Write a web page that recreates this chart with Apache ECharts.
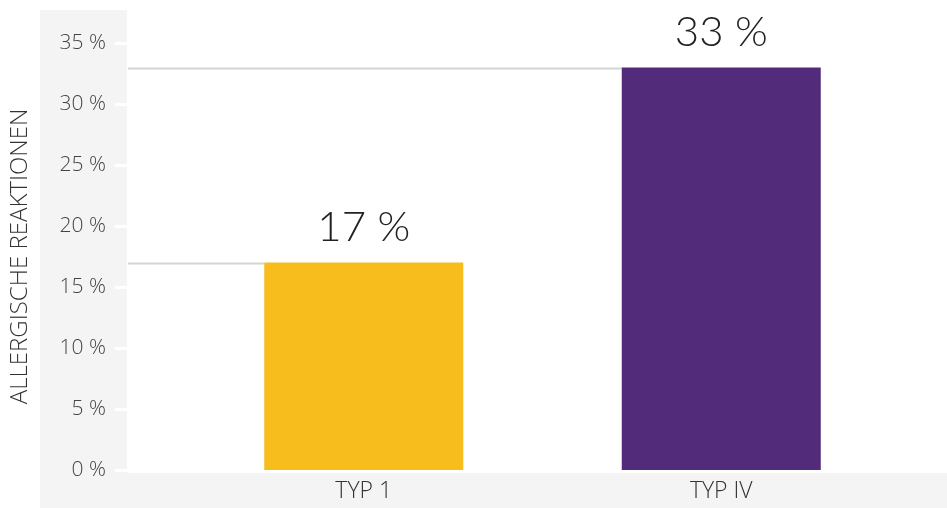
<!DOCTYPE html>
<html>
<head>
<meta charset="utf-8">
<script src="https://cdn.jsdelivr.net/npm/echarts@6/dist/echarts.min.js"></script>
<style>
  html, body { margin: 0; padding: 0; background: #fff; }
  #chart { width: 947px; height: 508px; }
</style>
</head>
<body>
<div id="chart"></div>
<script>
// Daten
var categories = ['TYP 1', 'TYP IV'];
var values = [17, 33];
var barColors = ['#F6BD1D', '#522B7A'];
var yAxisName = 'ALLERGISCHE REAKTIONEN';

var fontFam = '"Open Sans", Lato, sans-serif';
var bigFont = 'Lato, "Open Sans", sans-serif';
var barWidth = 199;
var axisOffset = 57;

var myChart = echarts.init(document.getElementById('chart'));

var option = {
    backgroundColor: '#ffffff',
    animation: false,
    graphic: [
        { type: 'rect', z: -10, shape: { x: 40, y: 10, width: 87, height: 498 }, style: { fill: '#f4f4f4' } },
        { type: 'rect', z: -10, shape: { x: 127, y: 473, width: 820, height: 35 }, style: { fill: '#f4f4f4' } }
    ],
    grid: { left: 184, right: 47, top: 43, bottom: 38 },
    xAxis: {
        type: 'category',
        data: categories,
        axisLine: { show: false },
        axisTick: { show: false },
        axisLabel: { color: '#333', fontSize: 23, fontFamily: fontFam, fontWeight: 300, margin: 10 }
    },
    yAxis: {
        type: 'value',
        min: 0,
        max: 35,
        interval: 5,
        offset: axisOffset,
        name: yAxisName,
        nameLocation: 'middle',
        nameGap: 96,
        nameRotate: 90,
        nameTextStyle: { color: '#333', fontSize: 24, fontFamily: fontFam, fontWeight: 300 },
        axisLine: { show: false },
        axisTick: { show: true, length: 13, lineStyle: { color: '#ffffff', width: 3 } },
        splitLine: { show: false },
        axisLabel: {
            color: '#444', fontSize: 21, fontFamily: fontFam, fontWeight: 300, margin: 22,
            formatter: function (v) { return v + ' %'; }
        }
    },
    series: [{
        type: 'custom',
        z: 1,
        data: values.map(function (v, i) { return [i, v]; }),
        renderItem: function (params, api) {
            var p = api.coord([api.value(0), api.value(1)]);
            var x0 = params.coordSys.x - axisOffset;
            return {
                type: 'line',
                shape: { x1: x0, y1: p[1] + 1, x2: p[0] - barWidth / 2, y2: p[1] + 1 },
                style: { stroke: '#d4d4d4', lineWidth: 2 }
            };
        }
    }, {
        type: 'bar',
        z: 2,
        barWidth: barWidth,
        data: values.map(function (v, i) {
            return { value: v, itemStyle: { color: barColors[i] } };
        }),
        label: {
            show: true,
            position: 'top',
            distance: 14,
            color: '#222',
            fontSize: 42,
            fontFamily: bigFont,
            fontWeight: 300,
            formatter: function (p) { return p.value + ' %'; }
        }
    }]
};

myChart.setOption(option);
</script>
</body>
</html>
